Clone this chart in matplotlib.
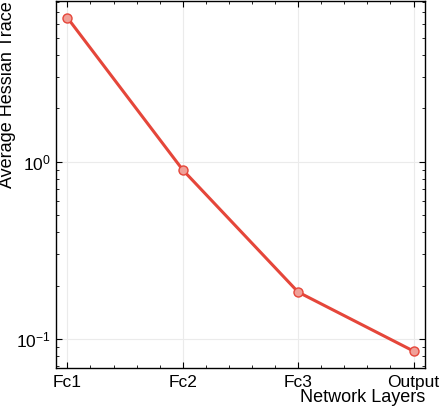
import matplotlib
matplotlib.use('Agg')
import matplotlib.pyplot as plt
from matplotlib.ticker import MultipleLocator

plt.rcParams['font.family'] = ['Liberation Sans', 'DejaVu Sans']
plt.rcParams['xtick.direction'] = 'in'
plt.rcParams['ytick.direction'] = 'in'
plt.rcParams['xtick.top'] = True
plt.rcParams['ytick.right'] = True

layers = ['Fc1', 'Fc2', 'Fc3', 'Output']
trace = [6.5, 0.90, 0.184, 0.0855]
red = '#e5463a'

fig = plt.figure(figsize=(4.4, 4.08), dpi=100)
ax = fig.add_axes([0.127, 0.098, 0.839, 0.9])

x = list(range(len(layers)))
ax.plot(x, trace, color=red, lw=2.2, marker='o', ms=6.5,
        mfc='#f0a098', mec=red, mew=1.0)
ax.set_yscale('log')
ax.set_xlim(-0.1, 3.1)
ax.set_ylim(0.0686, 8.1)
ax.set_xticks(x)
ax.set_xticklabels(layers)
ax.xaxis.set_minor_locator(MultipleLocator(0.2))
ax.grid(True, color='#ebebeb', lw=0.8)
for s in ax.spines.values():
    s.set_linewidth(1.0)
ax.tick_params(labelsize=12.5)
ax.tick_params(axis='x', pad=5)
ax.tick_params(which='major', length=4, width=0.8)
ax.tick_params(which='minor', length=2.5, width=0.6)
ax.set_xlabel('Network Layers', fontsize=13, loc='right', labelpad=-1)
ax.set_ylabel('Average Hessian Trace', fontsize=13, loc='top', labelpad=0)

plt.savefig('out.png', dpi=100)
